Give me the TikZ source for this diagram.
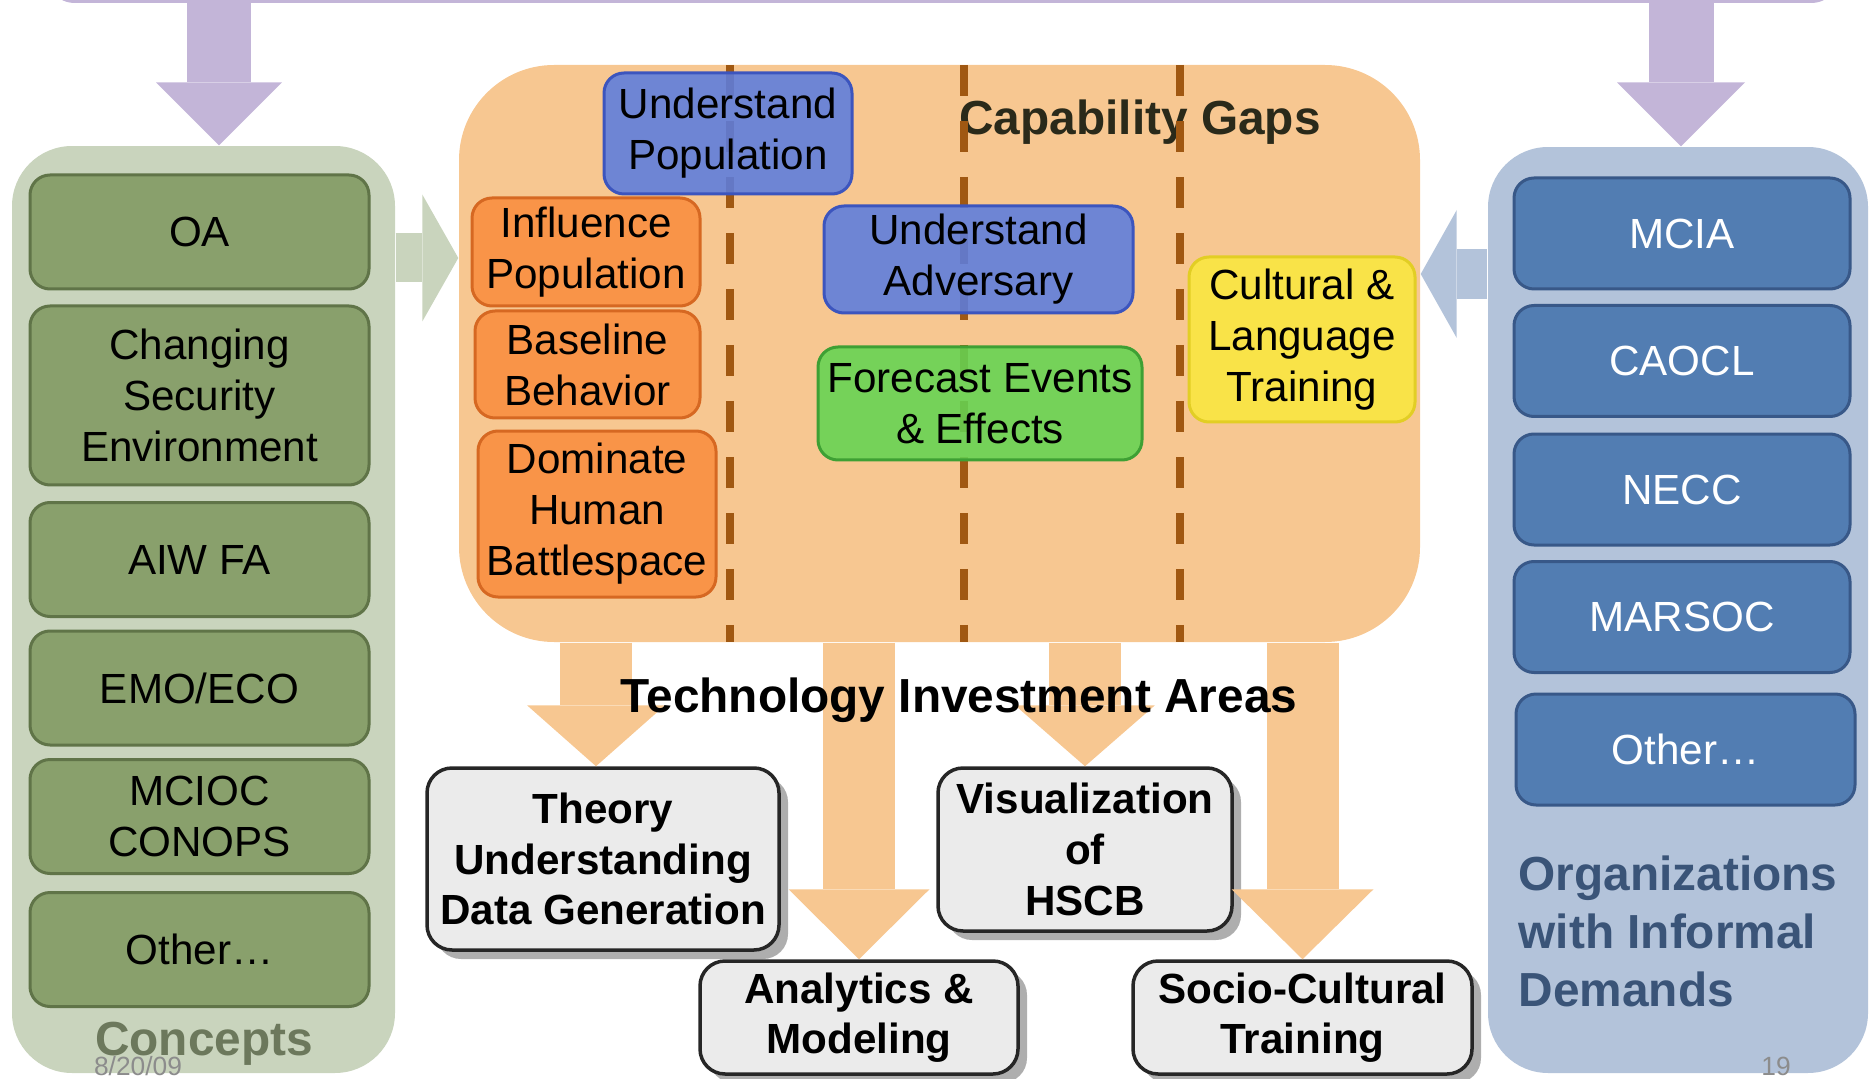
\documentclass[tikz,border=0pt]{standalone}
\usepackage{fontspec}
\setmainfont{Liberation Sans}
\usetikzlibrary{arrows.meta, shadows}

\definecolor{lilac}{RGB}{195,181,216}
\definecolor{sage}{RGB}{201,212,189}
\definecolor{olive}{RGB}{137,160,108}
\definecolor{olivedark}{RGB}{96,116,72}
\definecolor{conceptgrey}{RGB}{108,120,92}
\definecolor{peach}{RGB}{247,199,145}
\definecolor{rust}{RGB}{160,88,18}
\definecolor{popblue}{RGB}{92,125,222}
\definecolor{popbluedark}{RGB}{60,85,190}
\definecolor{tangerine}{RGB}{250,142,62}
\definecolor{tangerinedark}{RGB}{214,104,34}
\definecolor{lime}{RGB}{100,212,82}
\definecolor{limedark}{RGB}{62,160,52}
\definecolor{lemon}{RGB}{250,232,62}
\definecolor{lemondark}{RGB}{226,206,36}
\definecolor{slate}{RGB}{179,195,218}
\definecolor{steel}{RGB}{82,125,178}
\definecolor{steeldark}{RGB}{56,88,136}
\definecolor{navytext}{RGB}{58,84,120}
\definecolor{titleink}{RGB}{42,42,26}

\newcommand{\cellfont}{\fontsize{12}{14.5}\selectfont}
\newcommand{\cellbold}{\fontsize{12}{14.4}\selectfont\bfseries}
\newcommand{\headfont}{\fontsize{13.6}{16.5}\selectfont\bfseries}

\tikzstyle{panel} = [rectangle, rounded corners=6mm, inner sep=0pt]
\tikzstyle{concept} = [rectangle, rounded corners=2mm, draw=olivedark, line width=0.3mm, fill=olive, minimum width=33.9mm, minimum height=11.4mm, inner sep=0pt, align=center, font=\cellfont]
\tikzstyle{org} = [rectangle, rounded corners=2mm, draw=steeldark, line width=0.3mm, fill=steel, text=white, minimum width=33.6mm, minimum height=11.1mm, inner sep=0pt, align=center, font=\cellfont]
\tikzstyle{gapbox} = [rectangle, rounded corners=2mm, line width=0.3mm, inner sep=0pt, align=center, font=\cellfont, fill opacity=0.88, text opacity=1]
\tikzstyle{area} = [rectangle, rounded corners=2.5mm, draw=black!85, line width=0.35mm, fill=black!8, inner sep=0pt, align=center, font=\cellbold, drop shadow={shadow xshift=0.9mm, shadow yshift=-0.9mm, fill=black!45, opacity=0.7}]
\tikzstyle{divider} = [rust, line width=0.8mm, dash pattern=on 3.1mm off 2.5mm]
\tikzstyle{feed} = [line width=7.2mm, peach]
\tikzstyle{footer} = [font=\fontsize{7.5}{9}\selectfont, text=black!45, inner sep=0pt]

\begin{document}
\begin{tikzpicture}[x=0.1mm, y=-0.1mm]
    \useasboundingbox (0,0) rectangle (1875,1079);

    \fill [lilac, rounded corners=3mm] (45,-60) rectangle (1841,3);

    \node (conceptpanel) [panel, fill=sage, minimum width=38.3mm, minimum height=92.7mm] at (203.5,609.5) {};
    \node (gaps) [panel, rounded corners=9.5mm, fill=peach, minimum width=96.1mm, minimum height=57.7mm] at (939.5,353.5) {};
    \node (orgpanel) [panel, fill=slate, minimum width=38mm, minimum height=92.6mm] at (1678,610) {};

    % arrows into the panels
    \coordinate (srcleft) at (219,-10);
    \coordinate (srcright) at (1681,-10);
    \coordinate (feedrow) at (0,258);
    \coordinate (demandrow) at (0,274);
    \draw [lilac, line width=6.4mm, -{Triangle[width=12.6mm, length=6.3mm, line width'=0pt]}] (srcleft) -- (srcleft |- conceptpanel.north);
    \draw [lilac, line width=6.5mm, -{Triangle[width=12.8mm, length=6.4mm, line width'=0pt]}] (srcright) -- (srcright |- orgpanel.north);
    \draw [sage, line width=4.9mm, -{Triangle[width=12.7mm, length=3.6mm, line width'=0pt]}] (conceptpanel.east |- feedrow) -- (gaps.west |- feedrow);
    \draw [slate, line width=5mm, -{Triangle[width=12.8mm, length=3.6mm, line width'=0pt]}] (orgpanel.west |- demandrow) -- (gaps.east |- demandrow);

    \node (gapstitle) [font=\headfont, text=titleink] at (1140,122) {Capability Gaps};

    \foreach \x in {730, 964, 1180}
        \draw [divider] (\x,65) -- (\x,642);

    \node (undpop) [gapbox, fill=popblue, draw=popbluedark, minimum width=24.8mm, minimum height=12.1mm] at (728,133.5) {Understand\\Population};
    \node (infpop) [gapbox, fill=tangerine, draw=tangerinedark, minimum width=22.8mm, minimum height=10.8mm] at (586,252) {Influence\\Population};
    \node (baseline) [gapbox, fill=tangerine, draw=tangerinedark, minimum width=22.5mm, minimum height=10.7mm] at (587.5,364.5) {Baseline\\Behavior};
    \node (dominate) [gapbox, fill=tangerine, draw=tangerinedark, minimum width=23.8mm, minimum height=16.6mm] at (597,514) {Dominate\\Human\\Battlespace};
    \node (undadv) [gapbox, fill=popblue, draw=popbluedark, minimum width=30.9mm, minimum height=10.7mm] at (978.5,259.5) {Understand\\Adversary};
    \node (forecast) [gapbox, fill=lime, draw=limedark, minimum width=32.4mm, minimum height=11.3mm] at (980,403.5) {Forecast Events\\\& Effects};
    \node (cultural) [gapbox, fill=lemon, draw=lemondark, minimum width=22.6mm, minimum height=16.5mm] at (1302,339.5) {Cultural \&\\Language\\Training};

    % technology investment areas
    \node (theory) [area, minimum width=35.2mm, minimum height=18.2mm] at (603,859) {Theory\\Understanding\\Data Generation};
    \node (visual) [area, minimum width=29.4mm, minimum height=16.3mm] at (1085,849.5) {Visualization\\of\\HSCB};
    \node (analytics) [area, minimum width=31.8mm, minimum height=11.3mm] at (859,1017.5) {Analytics \&\\Modeling};
    \node (socio) [area, minimum width=33.9mm, minimum height=11.3mm] at (1302.5,1017.5) {Socio-Cultural\\Training};

    \draw [feed, -{Triangle[width=13.8mm, length=6.1mm, line width'=0pt]}] ([xshift=-0.7mm]theory.north |- gaps.south) -- ([xshift=-0.7mm]theory.north);
    \draw [feed, -{Triangle[width=14.1mm, length=7mm, line width'=0pt]}] (analytics.north |- gaps.south) -- (analytics.north);
    \draw [feed, -{Triangle[width=14mm, length=6.1mm, line width'=0pt]}] (visual.north |- gaps.south) -- (visual.north);
    \draw [feed, -{Triangle[width=14.2mm, length=7mm, line width'=0pt]}] (socio.north |- gaps.south) -- (socio.north);

    \node (areastitle) [font=\headfont] at (959,700) {Technology Investment Areas};

    % concepts
    \node (oa) [concept] at (199.5,232) {OA};
    \node (changing) [concept, minimum height=17.9mm] at (199.5,395.5) {Changing\\Security\\Environment};
    \node (aiw) [concept] at (199.5,559.5) {AIW FA};
    \node (emo) [concept] at (199.5,688) {EMO/ECO};
    \node (mcioc) [concept] at (199.5,816.5) {MCIOC\\CONOPS};
    \node (otherconcept) [concept] at (199.5,949.5) {Other…};
    \node (conceptlabel) [font=\headfont, text=conceptgrey] at (204,1044) {Concepts};
    \node (date) [footer] at (138,1066) {8/20/09};

    % organizations
    \node (mcia) [org] at (1682,233.5) {MCIA};
    \node (caocl) [org] at (1682,361) {CAOCL};
    \node (necc) [org] at (1682,489.5) {NECC};
    \node (marsoc) [org] at (1682,617) {MARSOC};
    \node (otherorg) [org, minimum width=33.9mm] at (1685.5,749.5) {Other…};
    \node (orglabel) [font=\headfont, text=navytext, align=left, anchor=west, inner sep=0pt] at (1518,931) {Organizations\\with Informal\\Demands};
    \node (pagenum) [footer] at (1776,1066) {19};

\end{tikzpicture}
\end{document}
